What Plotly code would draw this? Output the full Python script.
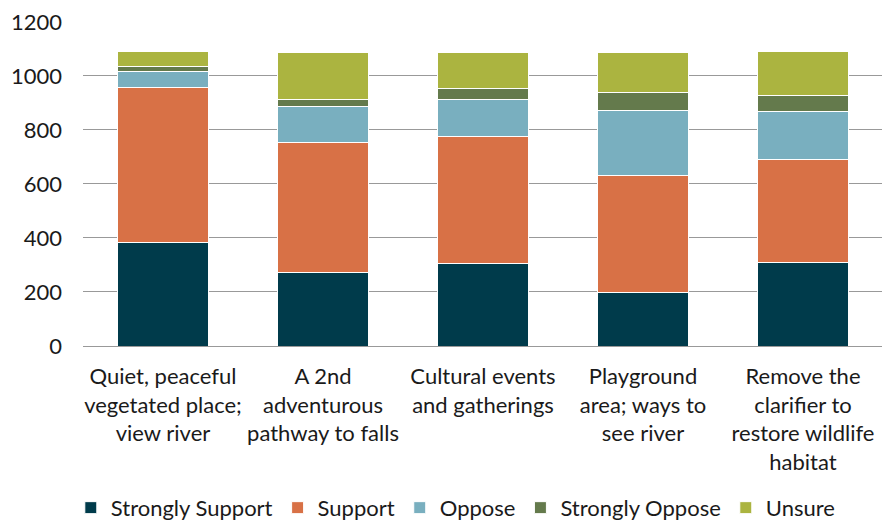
import plotly.graph_objects as go

categories = [
    "Quiet, peaceful<br>vegetated place;<br>view river",
    "A 2nd<br>adventurous<br>pathway to falls",
    "Cultural events<br>and gatherings",
    "Playground<br>area; ways to<br>see river",
    "Remove the<br>clarifier to<br>restore wildlife<br>habitat",
]
strongly_support = [382, 273, 305, 199, 309]
support = [574, 480, 471, 431, 381]
oppose = [61, 132, 136, 242, 179]
strongly_oppose = [16, 28, 41, 66, 58]
unsure = [58, 172, 132, 148, 164]

series = [
    ("Strongly Support", strongly_support, "#003B4B"),
    ("Support", support, "#D87146"),
    ("Oppose", oppose, "#79AFBF"),
    ("Strongly Oppose", strongly_oppose, "#647A4C"),
    ("Unsure", unsure, "#ABB440"),
]

fig = go.Figure()
for name, vals, color in series:
    fig.add_trace(go.Bar(
        x=categories, y=vals, name=name,
        marker=dict(color=color, line=dict(color="white", width=1)),
    ))

# page body keeps its default 8px margin; the figure is a bit taller than the
# window so the legend below the plot doesn't push the bottom margin up
fig.update_layout(
    barmode="stack",
    bargap=0.43,
    width=882,
    height=530,
    margin=dict(l=75, r=7, t=13, b=192),
    paper_bgcolor="white",
    plot_bgcolor="white",
    font=dict(family="Lato, Open Sans, sans-serif", size=22, color="#1a1a1a"),
    legend=dict(
        orientation="h", x=0.466, xanchor="center", y=-0.498, yanchor="middle",
        font=dict(size=22), itemwidth=30, traceorder="normal",
    ),
)
fig.update_yaxes(
    range=[0, 1203], tickvals=[0, 200, 400, 600, 800, 1000, 1200],
    showgrid=True, gridcolor="#999", gridwidth=1.3,
    zeroline=True, zerolinecolor="#999", zerolinewidth=1.3,
    ticklabelstandoff=20, tickfont=dict(size=22), automargin=False,
    ticklabeloverflow="allow",
)
fig.update_xaxes(showgrid=False, tickfont=dict(size=22), ticklabelstandoff=15,
                 automargin=False)

fig.write_html("out.html")
